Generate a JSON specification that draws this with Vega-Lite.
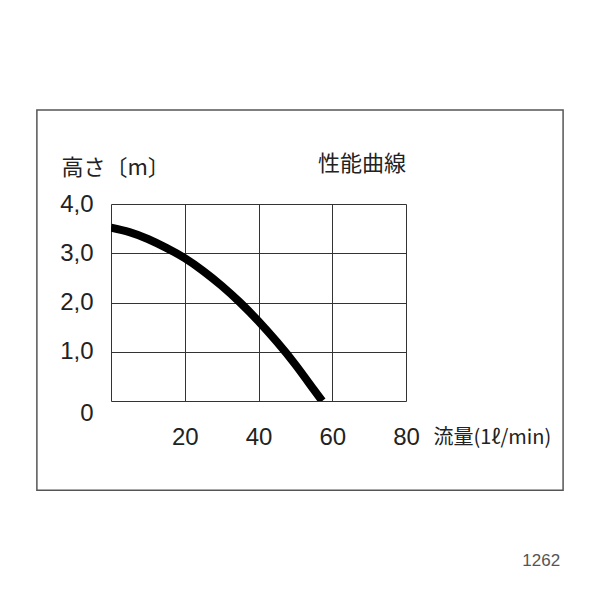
{
  "$schema": "https://vega.github.io/schema/vega-lite/v6.json",
  "autosize": "none",
  "padding": {"left": 111, "top": 204, "right": 194, "bottom": 199},
  "width": 295,
  "height": 197,
  "background": "white",
  "config": {
    "view": {"stroke": null},
    "font": "Liberation Sans"
  },
  "title": {
    "text": "性能曲線",
    "anchor": "end",
    "frame": "group",
    "font": "Noto Sans CJK JP",
    "fontSize": 22,
    "fontWeight": "normal",
    "color": "#222",
    "offset": -67
  },
  "datasets": {
    "curve": [
      {"flow": 0, "head": 3.52},
      {"flow": 5, "head": 3.43},
      {"flow": 10, "head": 3.29},
      {"flow": 15, "head": 3.11},
      {"flow": 20, "head": 2.9},
      {"flow": 25, "head": 2.64},
      {"flow": 30, "head": 2.34},
      {"flow": 35, "head": 2.0},
      {"flow": 40, "head": 1.62},
      {"flow": 45, "head": 1.2},
      {"flow": 50, "head": 0.74},
      {"flow": 55, "head": 0.23},
      {"flow": 57.3, "head": 0}
    ],
    "note": [{"code": "1262"}]
  },
  "layer": [
    {
      "data": {"name": "note"},
      "mark": {"type": "rect", "fill": null, "stroke": "#555", "strokeWidth": 1.5, "clip": false},
      "encoding": {
        "x": {"datum": -20.1, "type": "quantitative", "scale": {"domain": [0, 80]}},
        "x2": {"datum": 122.6},
        "y": {"datum": 5.91, "type": "quantitative", "scale": {"domain": [0, 4]}},
        "y2": {"datum": -1.81}
      }
    },
    {
      "data": {"name": "curve"},
      "mark": {"type": "line", "color": "black", "strokeWidth": 8, "interpolate": "natural", "strokeCap": "butt", "clip": true},
      "encoding": {
        "x": {
          "field": "flow", "type": "quantitative",
          "scale": {"domain": [0, 80], "nice": false, "zero": false},
          "axis": {
            "values": [0, 20, 40, 60, 80],
            "grid": true, "gridColor": "#333", "gridWidth": 1, "gridOpacity": 1,
            "domain": false, "ticks": false,
            "labelExpr": "datum.value == 0 ? '' : datum.label",
            "labelFontSize": 24, "labelColor": "#222", "labelPadding": 24, "labelFlush": false,
            "title": "流量(1ℓ/min)",
            "titleFont": "Noto Sans CJK JP", "titleFontSize": 20, "titleFontWeight": "normal", "titleColor": "#222",
            "titleAnchor": "start", "titleAlign": "left", "titleBaseline": "middle",
            "titleX": 322, "titleY": 36
          }
        },
        "y": {
          "field": "head", "type": "quantitative",
          "scale": {"domain": [0, 4], "nice": false, "zero": false},
          "axis": {
            "values": [0, 1, 2, 3, 4],
            "grid": true, "gridColor": "#333", "gridWidth": 1, "gridOpacity": 1,
            "domain": false, "ticks": false,
            "labelExpr": "datum.value == 0 ? '0' : replace(format(datum.value, '.1f'), '.', ',')",
            "labelFontSize": 24, "labelColor": "#222", "labelPadding": 18, "labelFlush": false,
            "labelBaseline": {"condition": {"test": "datum.value == 0", "value": "top"}, "value": "middle"},
            "title": "高さ〔m〕",
            "titleFont": "Noto Sans CJK JP", "titleFontSize": 22, "titleFontWeight": "normal", "titleColor": "#222",
            "titleAngle": 0, "titleAlign": "left", "titleBaseline": "middle",
            "titleX": -50, "titleY": -37
          }
        }
      }
    },
    {
      "data": {"name": "note"},
      "mark": {"type": "text", "align": "right", "baseline": "middle", "font": "Liberation Sans", "fontSize": 17, "color": "#555", "clip": false},
      "encoding": {
        "x": {"datum": 121.8, "type": "quantitative"},
        "y": {"datum": -3.25, "type": "quantitative"},
        "text": {"field": "code"}
      }
    }
  ]
}
